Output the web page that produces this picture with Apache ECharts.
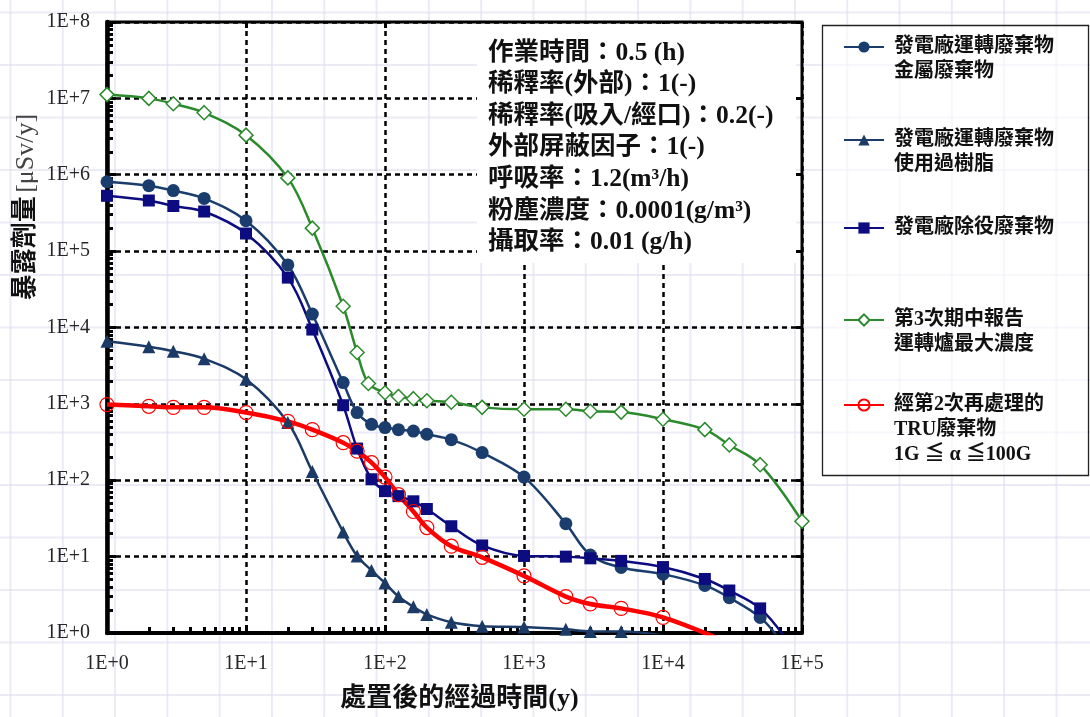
<!DOCTYPE html>
<html><head><meta charset="utf-8">
<script src="https://cdn.jsdelivr.net/npm/echarts@6/dist/echarts.min.js"></script>
<style>
html,body{margin:0;padding:0;width:1090px;height:717px;overflow:hidden;background-color:#fff;
background-image:linear-gradient(to right, rgba(222,222,240,0.6) 1.5px, transparent 1.5px), linear-gradient(to bottom, rgba(222,222,240,0.6) 1.5px, transparent 1.5px);
background-size:52.3px 52.5px;background-position:9.5px 11.5px;}
#chart{width:1090px;height:717px;}
</style></head><body><div id="chart"></div>
<script>
// ---- tick labels ----
const xTickLabels = ['1E+0','1E+1','1E+2','1E+3','1E+4','1E+5'];
const yTickLabels = ['1E+0','1E+1','1E+2','1E+3','1E+4','1E+5','1E+6','1E+7','1E+8'];

// ---- series names ----
const seriesNames = [
  '發電廠運轉廢棄物\n金屬廢棄物',
  '發電廠運轉廢棄物\n使用過樹脂',
  '發電廠除役廢棄物',
  '第3次期中報告\n運轉爐最大濃度',
  '經第2次再處理的\nTRU廢棄物\n1G ≦ α ≦100G'
];

// ---- data (years, μSv/y) ----
const metalX = [1,2,3,5,10,20,30,50,63,80,100,125,160,200,300,500,1000,2000,3000,5000,10000,20000,30000,50000,70000];
const metalY = [8.1e5,7.2e5,6.2e5,4.9e5,2.5e5,6.6e4,1.5e4,1.9e3,770,540,490,460,440,400,340,230,110,27,10.5,7.2,5.9,4.2,2.9,1.6,0.8];

const resinX = [1,2,3,5,10,20,30,50,63,80,100,125,160,200,300,500,1000,2000,3000,5000,15000];
const resinY = [6.6e3,5.6e3,4.9e3,3.9e3,2.1e3,570,130,21,10.2,6.6,4.5,3.0,2.2,1.75,1.38,1.23,1.2,1.12,1.05,1.05,0.82];

const decomX = [1,2,3,5,10,20,30,50,63,80,100,125,160,200,300,500,1000,2000,3000,5000,10000,20000,30000,50000,78000];
const decomY = [5.3e5,4.6e5,3.9e5,3.3e5,1.7e5,4.5e4,9.4e3,960,260,103,72,62,53,42,25,14,10.2,10,9.5,8.8,7.3,5.1,3.6,2.1,0.8];

const reportX = [1,2,3,5,10,20,30,50,63,76,100,125,160,200,300,500,1000,2000,3000,5000,10000,20000,30000,50000,100000];
const reportY = [1.12e7,1.0e7,8.5e6,6.5e6,3.3e6,9.1e5,2.0e5,1.9e4,4.7e3,1.85e3,1.4e3,1.25e3,1.17e3,1.1e3,1.05e3,900,850,850,800,780,630,460,290,160,29];

const truX = [1,2,3,5,10,20,30,50,63,80,100,125,160,200,300,500,1000,2000,3000,5000,10000,26000];
const truY = [980,930,900,900,770,590,460,310,240,170,110,65,39,24,13.7,9.8,5.6,3.0,2.4,2.1,1.6,0.82];

// ---- annotation text ----
const noteLines = [
  '作業時間：0.5 (h)',
  '稀釋率(外部)：1(-)',
  '稀釋率(吸入/經口)：0.2(-)',
  '外部屏蔽因子：1(-)',
  '呼吸率：1.2(m³/h)',
  '粉塵濃度：0.0001(g/m³)',
  '攝取率：0.01 (g/h)'
];

const xMinorTicks = [];
for (let k = 0; k < 5; k++) for (let m = 2; m <= 9; m++) xMinorTicks.push(m * Math.pow(10, k));
const yMinorTicks = [];
for (let k = 0; k < 8; k++) for (let m = 2; m <= 9; m++) yMinorTicks.push(m * Math.pow(10, k));

const FONT = '"Liberation Serif", "Noto Sans CJK TC", serif';
const zip = (xs, ys) => xs.map((x, i) => [x, ys[i]]);
const lg = v => Math.round(Math.log10(v));

const chart = echarts.init(document.getElementById('chart'), null, {renderer: 'canvas'});

const seriesDefs = [
  {name: seriesNames[3], data: zip(reportX, reportY), symbol: 'diamond', symbolSize: 14, color: '#2b8a2b', width: 2.5, fill: '#ffffff', border: 1.5},
  {name: seriesNames[1], data: zip(resinX, resinY), symbol: 'triangle', symbolSize: 13, color: '#1b3a66', width: 2.5},
  {name: seriesNames[0], data: zip(metalX, metalY), symbol: 'circle', symbolSize: 13, color: '#1a3d6e', width: 2.5},
  {name: seriesNames[2], data: zip(decomX, decomY), symbol: 'rect', symbolSize: 12, color: '#0c0c80', width: 2.5},
  {name: seriesNames[4], data: zip(truX, truY), symbol: 'circle', symbolSize: 14, color: '#ff0000', width: 4.5, fill: 'rgba(0,0,0,0)', border: 1.2}
];

const series = seriesDefs.map(d => ({
  name: d.name, type: 'line', data: d.data, xAxisIndex: 0, yAxisIndex: 0,
  smooth: 0.35, clip: true, symbol: d.symbol, symbolSize: d.symbolSize,
  showAllSymbol: true,
  lineStyle: {color: d.color, width: d.width},
  itemStyle: d.fill ? {color: d.fill, borderColor: d.color, borderWidth: d.border} : {color: d.color},
  emphasis: {disabled: true}, animation: false
}));

// legend layout: icon aligned with first text line (blank lines above keep it centred)
const legendTops = [9.5, 102.5, 215.5, 282.5, 342.5];
const legends = seriesNames.map((n, i) => ({
  data: [n], orient: 'vertical', left: 843, top: legendTops[i], padding: 0,
  itemWidth: 40, itemHeight: 14, selectedMode: false,
  formatter: name => '\n'.repeat(name.split('\n').length - 1) + name,
  textStyle: {fontSize: 20, fontWeight: 'bold', fontFamily: FONT, color: '#111', lineHeight: 25, padding: [0, 0, 0, 5]}
}));

const graphics = [
  {type: 'rect', z: 0, shape: {x: 822.5, y: 25.5, width: 266, height: 450}, style: {fill: 'rgba(255,255,255,0.55)', stroke: '#222', lineWidth: 1.3}},
  {type: 'rect', z: 3, shape: {x: 477, y: 24, width: 319, height: 239}, style: {fill: '#ffffff'}},
  {type: 'text', z: 5, x: 26, y: 207, rotation: Math.PI / 2,
    style: {text: '{a|暴露劑量} {b|[μSv/y]}', align: 'center', verticalAlign: 'middle',
      rich: {a: {fontSize: 26, fontWeight: 'bold', fontFamily: FONT, fill: '#111', color: '#111'},
             b: {fontSize: 26, fontFamily: FONT, fill: '#444', color: '#444'}}}}
];
noteLines.forEach((t, i) => graphics.push({
  type: 'text', z: 5, x: 488, y: 53 + i * 31.6,
  style: {text: t, align: 'left', verticalAlign: 'middle', fontSize: 25.5, fontWeight: 'bold', fontFamily: FONT, fill: '#111'}
}));

const axisLabelStyle = {fontSize: 20, fontFamily: '"Liberation Serif", serif', color: '#262626'};

chart.setOption({
  animation: false,
  grid: {left: 107, right: 288, top: 22, bottom: 83, show: true, borderColor: '#000', borderWidth: 3, backgroundColor: 'transparent'},
  xAxis: [
    {type: 'log', logBase: 10, min: 1, max: 1e5, position: 'bottom',
      axisLine: {show: true, lineStyle: {color: '#000', width: 4}},
      axisTick: {show: true, inside: true, length: 8, lineStyle: {color: '#000', width: 3}},
      axisLabel: Object.assign({margin: 21, formatter: v => xTickLabels[lg(v)]}, axisLabelStyle),
      splitLine: {show: true, lineStyle: {color: '#000', width: 2.5, type: [5, 4]}},
      name: '處置後的經過時間(y)', nameLocation: 'middle', nameGap: 53,
      nameTextStyle: {fontSize: 26, fontWeight: 'bold', fontFamily: FONT, color: '#111', padding: [0, 0, 0, 10]}},
    {type: 'log', logBase: 10, min: 1, max: 1e5, position: 'bottom',
      axisLine: {show: false}, axisLabel: {show: false}, splitLine: {show: false},
      axisTick: {show: true, inside: true, length: 6, lineStyle: {color: '#000', width: 3}, customValues: xMinorTicks}},
    {type: 'log', logBase: 10, min: 1, max: 1e5, position: 'top',
      axisLine: {show: false}, axisLabel: {show: false}, splitLine: {show: false},
      axisTick: {show: true, inside: true, length: 6, lineStyle: {color: '#000', width: 3}}}
  ],
  yAxis: [
    {type: 'log', logBase: 10, min: 1, max: 1e8, position: 'left',
      axisLine: {show: true, lineStyle: {color: '#000', width: 4.5}},
      axisTick: {show: true, inside: true, length: 9, lineStyle: {color: '#000', width: 3}},
      axisLabel: Object.assign({margin: 17, formatter: v => yTickLabels[lg(v)]}, axisLabelStyle),
      splitLine: {show: true, lineStyle: {color: '#000', width: 2.5, type: [5, 4]}}},
    {type: 'log', logBase: 10, min: 1, max: 1e8, position: 'left',
      axisLine: {show: false}, axisLabel: {show: false}, splitLine: {show: false},
      axisTick: {show: true, inside: true, length: 6, lineStyle: {color: '#000', width: 3}, customValues: yMinorTicks}},
    {type: 'log', logBase: 10, min: 1, max: 1e8, position: 'right',
      axisLine: {show: false}, axisLabel: {show: false}, splitLine: {show: false},
      axisTick: {show: true, inside: true, length: 6, lineStyle: {color: '#000', width: 3}}}
  ],
  legend: legends,
  graphic: graphics,
  series: series
});
</script></body></html>
